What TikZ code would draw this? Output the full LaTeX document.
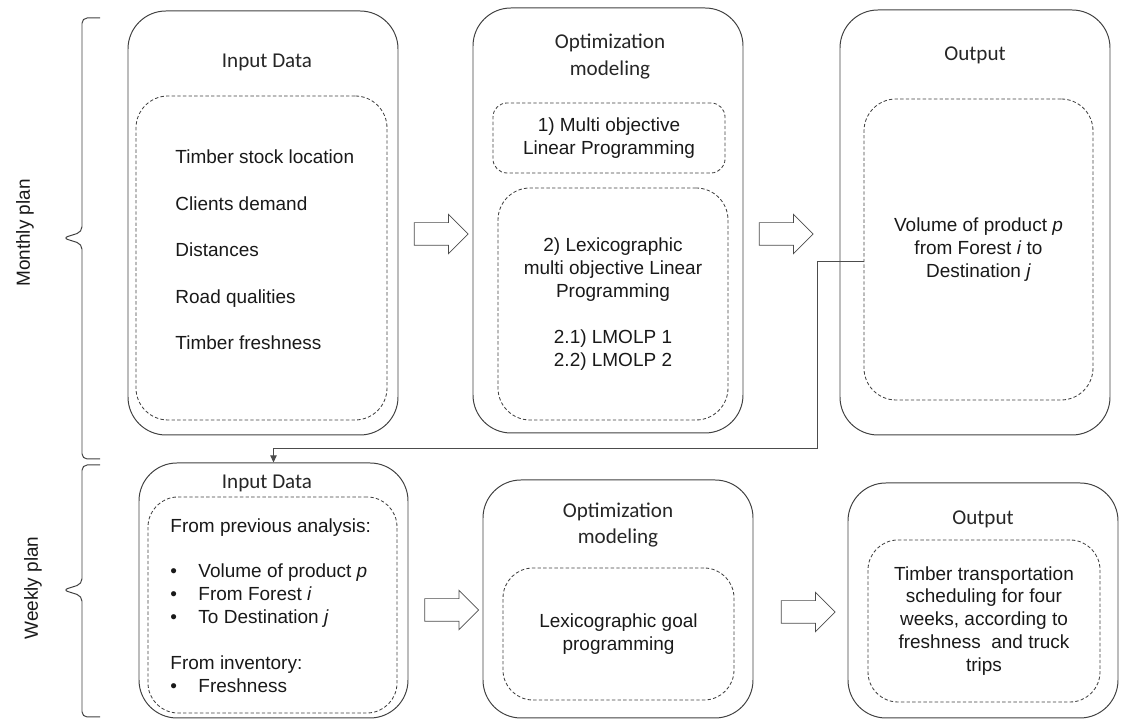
\documentclass[tikz,border=0pt]{standalone}
\usepackage{fontspec}
\setmainfont{Liberation Sans}
\newfontfamily\titlefont{Carlito}
\usepackage{tikz}
\usetikzlibrary{positioning,calc,arrows.meta,shapes.arrows}

\begin{document}
\begin{tikzpicture}[line width=0.7pt,
		bigbox/.style={draw=black!75, rounded corners=0.95cm, minimum width=6.75cm, inner sep=0},
		dashbox/.style={draw=black!75, line width=0.6pt, dash pattern=on 2.4pt off 1.6pt, rounded corners=0.75cm, inner sep=0,
			font=\fontsize{13.5}{16.3}\selectfont, align=center, text=black!90},
		boxtitle/.style={font=\titlefont\fontsize{15}{19}\selectfont, align=center, text=black!85, inner sep=0},
		boxlist/.style={font=\fontsize{13.5}{16.3}\selectfont, align=left, anchor=west, text=black!90, inner sep=0},
		flowarrow/.style={single arrow, draw=black!70, line width=0.5pt, inner xsep=0, inner ysep=0.275cm,
			minimum height=1.35cm, single arrow head extend=0.21cm, single arrow head indent=0},
		planbrace/.style={draw=black!75, rounded corners=0.13cm},
		sidelabel/.style={rotate=90, font=\fontsize{13.5}{16}\selectfont, text=black!90}]
		
		\useasboundingbox (0,0) rectangle (28.1,18.025);
		
		% monthly plan
		\draw[planbrace] (2.5,17.575) -- (2.05,17.575) -- (2.05,12.225) -- (1.575,12.075) -- (2.05,11.925) -- (2.05,6.55) -- (2.5,6.55);
		\node[sidelabel] (mPlan) at (0.625,12.2) {Monthly plan};
		
		\node[bigbox, minimum height=10.6cm] (mIn) at (6.575,12.45) {};
		\node[boxtitle] (mInT) at (6.675,16.475) {Input Data};
		\node[dashbox, rounded corners=0.8cm, minimum width=6.275cm, minimum height=8.1cm] (mInD) at (6.5375,11.575) {};
		\node[boxlist, font=\fontsize{13.5}{33}\selectfont] (mInL) at (4.375,11.775)
			{Timber stock location\\Clients demand\\Distances\\Road qualities\\Timber freshness};
		
		\node[flowarrow] (mA1) at (10.8875,12.175) {};
		
		\node[bigbox, minimum height=10.625cm] (mOpt) at (15.2,12.5125) {};
		\node[boxtitle] (mOptT) at (15.25,16.6125) {Optimization\\modeling};
		\node[dashbox, rounded corners=0.35cm, minimum width=5.8cm, minimum height=1.75cm] (mOptA) at (15.225,14.575)
			{1) Multi objective\\Linear Programming};
		\node[dashbox, rounded corners=0.8cm, minimum width=5.75cm, minimum height=5.8cm] (mOptB) at (15.325,10.425)
			{2) Lexicographic\\multi objective Linear\\Programming\\[16.3pt]2.1) LMOLP 1\\2.2) LMOLP 2};
		
		\node[flowarrow] (mA2) at (19.5125,12.175) {};
		
		\node[bigbox, minimum height=10.625cm] (mOut) at (24.375,12.4625) {};
		\node[boxtitle] (mOutT) at (24.375,16.65) {Output};
		\node[dashbox, rounded corners=0.8cm, minimum width=5.725cm, minimum height=7.525cm] (mOutD) at (24.4625,11.7875)
			{Volume of product \textit{p}\\from Forest \textit{i} to\\Destination \textit{j}};
		
		% weekly plan
		\draw[planbrace] (2.5,6.4) -- (2.05,6.4) -- (2.05,3.425) -- (1.575,3.275) -- (2.05,3.125) -- (2.05,0.1) -- (2.5,0.1);
		\node[sidelabel] (wPlan) at (0.825,3.325) {Weekly plan};
		
		\node[bigbox, minimum width=6.725cm, minimum height=6.375cm] (wIn) at (6.8375,3.2625) {};
		\node[boxtitle] (wInT) at (6.675,5.95) {Input Data};
		\node[dashbox, minimum width=6.225cm, minimum height=5.4cm] (wInD) at (6.8125,2.9) {};
		\node[boxlist] (wInL) at (4.25,2.8875)
			{From previous analysis:\\[16.3pt]
			\makebox[0.7cm][l]{\textbullet}Volume of product \textit{p}\\
			\makebox[0.7cm][l]{\textbullet}From Forest \textit{i}\\
			\makebox[0.7cm][l]{\textbullet}To Destination \textit{j}\\[16.3pt]
			From inventory:\\
			\makebox[0.7cm][l]{\textbullet}Freshness};
		
		\node[flowarrow] (wA1) at (11.15,2.775) {};
		
		\node[bigbox, minimum height=5.95cm] (wOpt) at (15.45,3.05) {};
		\node[boxtitle] (wOptT) at (15.45,4.9) {Optimization\\modeling};
		\node[dashbox, minimum width=5.775cm, minimum height=3.3cm] (wOptD) at (15.4625,2.175)
			{Lexicographic goal\\programming};
		
		\node[flowarrow] (wA2) at (20.0625,2.725) {};
		
		\node[bigbox, minimum height=5.875cm] (wOut) at (24.575,3.0125) {};
		\node[boxtitle] (wOutT) at (24.575,5.05) {Output};
		\node[dashbox, minimum width=5.8cm, minimum height=4.05cm] (wOutD) at (24.6,2.5)
			{Timber transportation\\scheduling for four\\weeks, according to\\freshness \ and truck\\trips};
		
		% link monthly output -> weekly input
		\coordinate (mBend) at (20.425,6.825);
		\draw[draw=black!70, line width=0.6pt, -{Triangle[length=5pt,width=4.5pt]}]
			([yshift=-0.3cm]mOutD.west) -| (mBend) -| (wIn.north);
		
	\end{tikzpicture}
\end{document}
